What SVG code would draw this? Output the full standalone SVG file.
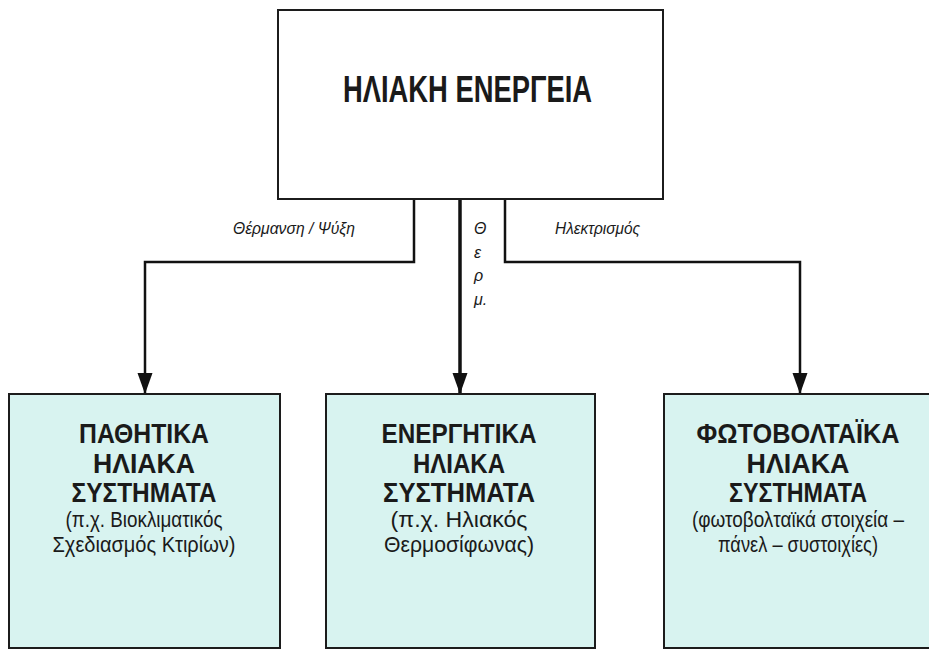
<svg xmlns="http://www.w3.org/2000/svg" width="929" height="649" viewBox="0 0 929 649">
  <style>
    .box { stroke: #1c1c1c; stroke-width: 2; }
    .root { fill: #ffffff; }
    .leaf { fill: #d8f3f0; }
    .wire { fill: none; stroke: #111111; stroke-width: 2.5; }
    .wire.main { stroke-width: 3.5; }
    .title { font-family: "Liberation Sans", Arial, sans-serif; font-weight: bold; fill: #1a1a1a; text-anchor: middle; }
    .sub { font-family: "Liberation Sans", Arial, sans-serif; fill: #1a1a1a; text-anchor: middle; }
    .lbl { font-family: "Liberation Sans", Arial, sans-serif; font-style: italic; fill: #1a1a1a; font-size: 16px; }
  </style>
  <defs>
    <marker id="arrow" markerUnits="userSpaceOnUse" markerWidth="22" markerHeight="16" refX="21" refY="7.5" orient="auto">
      <path d="M0,0 L21,7.5 L0,15 Z" fill="#111111"/>
    </marker>
  </defs>

  <rect width="929" height="649" fill="#ffffff"/>

  <!-- connectors -->
  <g id="connectors">
    <polyline class="wire" points="414,199 414,262 145,262 145,394" marker-end="url(#arrow)"/>
    <polyline class="wire main" points="460,199 460,394" marker-end="url(#arrow)"/>
    <polyline class="wire" points="505,199 505,262 800,262 800,394" marker-end="url(#arrow)"/>
    <text class="lbl" x="233" y="234" textLength="122" lengthAdjust="spacingAndGlyphs">Θέρμανση / Ψύξη</text>
    <text class="lbl" x="555" y="234" textLength="85" lengthAdjust="spacingAndGlyphs">Ηλεκτρισμός</text>
    <text class="lbl" x="474" y="234">Θ</text>
    <text class="lbl" x="474" y="258">ε</text>
    <text class="lbl" x="474" y="281">ρ</text>
    <text class="lbl" x="474" y="305">μ.</text>
  </g>

  <!-- top node -->
  <g id="node-solar-energy">
    <rect class="box root" x="278" y="10" width="385" height="189"/>
    <text class="title" x="467.5" y="102" font-size="37" textLength="249" lengthAdjust="spacingAndGlyphs">ΗΛΙΑΚΗ ΕΝΕΡΓΕΙΑ</text>
  </g>

  <!-- passive systems -->
  <g id="node-passive">
    <rect class="box leaf" x="9" y="394" width="271" height="254"/>
    <text class="title" x="144" y="443" font-size="28" textLength="130" lengthAdjust="spacingAndGlyphs">ΠΑΘΗΤΙΚΑ</text>
    <text class="title" x="144" y="473" font-size="28" textLength="102" lengthAdjust="spacingAndGlyphs">ΗΛΙΑΚΑ</text>
    <text class="title" x="144" y="502" font-size="28" textLength="145" lengthAdjust="spacingAndGlyphs">ΣΥΣΤΗΜΑΤΑ</text>
    <text class="sub" x="144" y="527" font-size="22" textLength="157" lengthAdjust="spacingAndGlyphs">(π.χ. Βιοκλιματικός</text>
    <text class="sub" x="144" y="552" font-size="22" textLength="183" lengthAdjust="spacingAndGlyphs">Σχεδιασμός Κτιρίων)</text>
  </g>

  <!-- active systems -->
  <g id="node-active">
    <rect class="box leaf" x="326" y="394" width="269" height="254"/>
    <text class="title" x="459" y="443" font-size="28" textLength="155" lengthAdjust="spacingAndGlyphs">ΕΝΕΡΓΗΤΙΚΑ</text>
    <text class="title" x="459" y="473" font-size="28" textLength="92" lengthAdjust="spacingAndGlyphs">ΗΛΙΑΚΑ</text>
    <text class="title" x="459" y="502" font-size="28" textLength="152" lengthAdjust="spacingAndGlyphs">ΣΥΣΤΗΜΑΤΑ</text>
    <text class="sub" x="459" y="527" font-size="22" textLength="137" lengthAdjust="spacingAndGlyphs">(π.χ. Ηλιακός</text>
    <text class="sub" x="459" y="552" font-size="22" textLength="150" lengthAdjust="spacingAndGlyphs">Θερμοσίφωνας)</text>
  </g>

  <!-- photovoltaic systems -->
  <g id="node-photovoltaic">
    <rect class="box leaf" x="664" y="394" width="270" height="254"/>
    <text class="title" x="798" y="443" font-size="28" textLength="203" lengthAdjust="spacingAndGlyphs">ΦΩΤΟΒΟΛΤΑΪΚΑ</text>
    <text class="title" x="798" y="473" font-size="28" textLength="103" lengthAdjust="spacingAndGlyphs">ΗΛΙΑΚΑ</text>
    <text class="title" x="798" y="502" font-size="28" textLength="138" lengthAdjust="spacingAndGlyphs">ΣΥΣΤΗΜΑΤΑ</text>
    <text class="sub" x="798" y="527" font-size="22" textLength="212" lengthAdjust="spacingAndGlyphs">(φωτοβολταϊκά στοιχεία –</text>
    <text class="sub" x="798" y="552" font-size="22" textLength="160" lengthAdjust="spacingAndGlyphs">πάνελ – συστοιχίες)</text>
  </g>
</svg>
